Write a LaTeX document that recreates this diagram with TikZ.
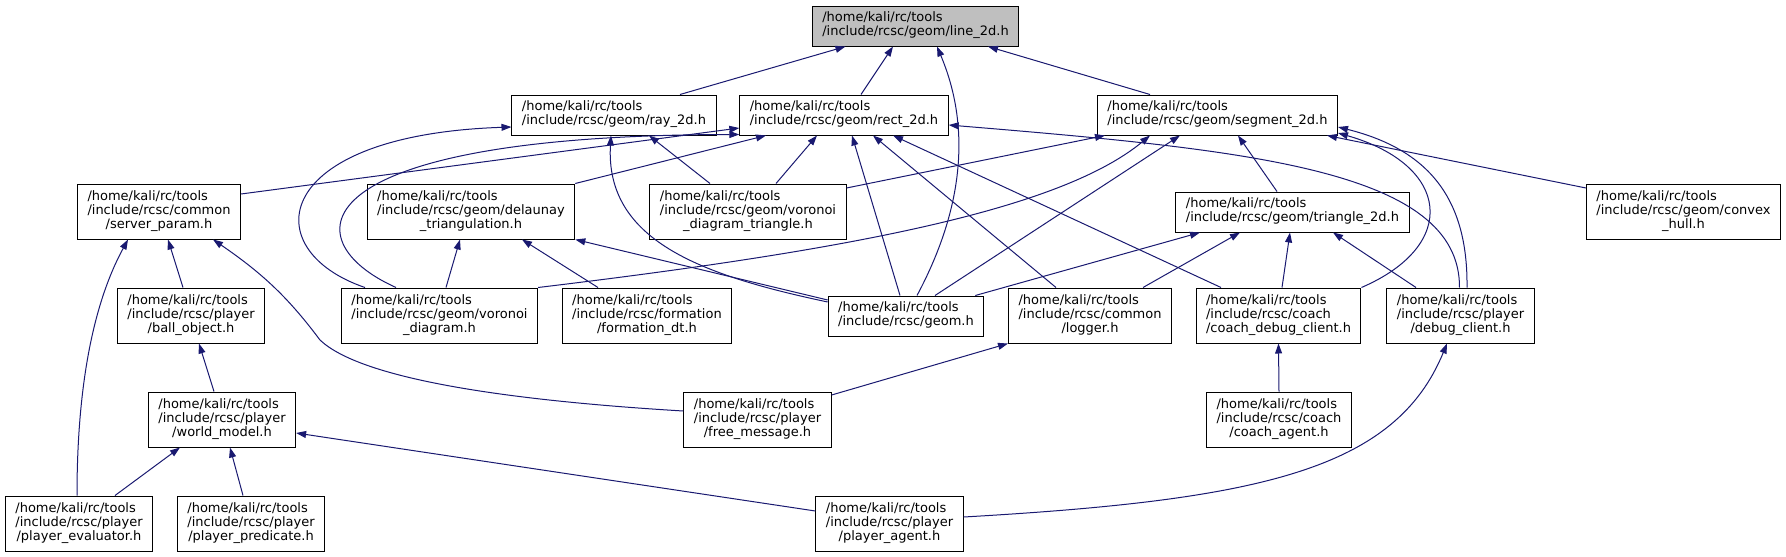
\documentclass[tikz,border=0pt]{standalone}
\usepackage{fontspec}
\setmainfont{DejaVu Sans}
\usepackage{tikz}
\usetikzlibrary{positioning,arrows.meta,calc}
\definecolor{edgeblue}{HTML}{191970}
\definecolor{rootgray}{HTML}{BFBFBF}
\newcommand{\fthree}[3]{\begin{tabular}{@{}l@{}}#1\\#2\\\multicolumn{1}{@{}c@{}}{#3}\end{tabular}}
\newcommand{\ftwo}[2]{\begin{tabular}{@{}l@{}}#1\\#2\end{tabular}}
\tikzset{
  incfile/.style={draw=black, line width=0.75pt, fill=white, inner xsep=7.5pt, inner ysep=0pt,
    minimum height=41.25pt, font=\fontsize{9.75}{10.7}\selectfont},
  incfiletwo/.style={incfile, minimum height=30pt},
  rootfile/.style={incfiletwo, fill=rootgray},
  incl/.style={draw=edgeblue, line width=0.75pt, {Triangle[length=7.5pt,width=5.2pt]}-}
}
\begin{document}
\begin{tikzpicture}[x=0.75pt, y=-0.75pt]
  \useasboundingbox (0,0) rectangle (1786,557);
  \def\home{/home/kali/rc/tools}

  % row 0 and 1
  \node[rootfile]   (l2d)  at (915.5,26)  {\ftwo{\home}{/include/rcsc/geom/line\_2d.h}};
  \node[incfiletwo] (ray)  at (614,115)   {\ftwo{\home}{/include/rcsc/geom/ray\_2d.h}};
  \node[incfiletwo] (rect) at (844,115)   {\ftwo{\home}{/include/rcsc/geom/rect\_2d.h}};
  \node[incfiletwo] (seg)  at (1217.5,115){\ftwo{\home}{/include/rcsc/geom/segment\_2d.h}};

  % row 2
  \node[incfile]    (srv) at (159,211.5)  {\fthree{\home}{/include/rcsc/common}{/server\_param.h}};
  \node[incfile]    (dln) at (471,211.5)  {\fthree{\home}{/include/rcsc/geom/delaunay}{\_triangulation.h}};
  \node[incfile]    (vdt) at (748,211.5)  {\fthree{\home}{/include/rcsc/geom/voronoi}{\_diagram\_triangle.h}};
  \node[incfiletwo] (tri) at (1292.5,212) {\ftwo{\home}{/include/rcsc/geom/triangle\_2d.h}};
  \node[incfile]    (cvx) at (1683.5,211.5){\fthree{\home}{/include/rcsc/geom/convex}{\_hull.h}};

  % row 3
  \node[incfile]    (ball) at (191,315.5)  {\fthree{\home}{/include/rcsc/player}{/ball\_object.h}};
  \node[incfile]    (vor)  at (439.5,315.5){\fthree{\home}{/include/rcsc/geom/voronoi}{\_diagram.h}};
  \node[incfile]    (fdt)  at (647,315.5)  {\fthree{\home}{/include/rcsc/formation}{/formation\_dt.h}};
  \node[incfiletwo] (geo)  at (906,316)    {\ftwo{\home}{/include/rcsc/geom.h}};
  \node[incfile]    (log)  at (1090,315.5) {\fthree{\home}{/include/rcsc/common}{/logger.h}};
  \node[incfile]    (cdc)  at (1278.5,315.5){\fthree{\home}{/include/rcsc/coach}{/coach\_debug\_client.h}};
  \node[incfile]    (dbc)  at (1460.5,315.5){\fthree{\home}{/include/rcsc/player}{/debug\_client.h}};

  % row 4 and 5
  \node[incfile] (wm) at (222,419.5)  {\fthree{\home}{/include/rcsc/player}{/world\_model.h}};
  \node[incfile] (fm) at (757.5,419.5){\fthree{\home}{/include/rcsc/player}{/free\_message.h}};
  \node[incfile] (ca) at (1279,419.5) {\fthree{\home}{/include/rcsc/coach}{/coach\_agent.h}};
  \node[incfile] (pe) at (79,523.5)   {\fthree{\home}{/include/rcsc/player}{/player\_evaluator.h}};
  \node[incfile] (pp) at (251,523.5)  {\fthree{\home}{/include/rcsc/player}{/player\_predicate.h}};
  \node[incfile] (pa) at (889.5,523.5){\fthree{\home}{/include/rcsc/player}{/player\_agent.h}};

  % line_2d.h
  \draw[incl] ($(l2d.south)+(-70,0)$) -- ($(ray.north)+(66,0)$);
  \draw[incl] ($(l2d.south)+(-22.5,0)$) -- ($(rect.north)+(17,0)$);
  \draw[incl] ($(l2d.south)+(21.5,0)$) .. controls (968,120) and (968,200) .. ($(geo.north)+(11,0)$);
  \draw[incl] ($(l2d.south)+(72.5,0)$) -- ($(seg.north)+(-67.5,0)$);

  % ray_2d.h
  \draw[incl] ($(ray.south)+(35,0)$) -- ($(vdt.north)+(-38,0)$);
  \draw[incl] ($(ray.west)+(0,12)$) .. controls (270,135) and (255,250) .. ($(vor.north)+(-74.5,0)$);
  \draw[incl] ($(ray.south)+(-3,0)$) .. controls (605,240) and (700,275) .. ($(geo.west)+(0,-14)$);

  % rect_2d.h
  \draw[incl] ($(rect.west)+(0,13)$) -- ($(srv.east)+(0,-17.5)$);
  \draw[incl] ($(rect.south)+(-78,0)$) -- (dln.north east);
  \draw[incl] ($(rect.south)+(-27,0)$) -- ($(vdt.north)+(28,0)$);
  \draw[incl] ($(rect.south west)+(0,-1)$) .. controls (300,135) and (290,240) .. ($(vor.north)+(-43.5,0)$);
  \draw[incl] ($(rect.south)+(8,0)$) -- ($(geo.north)+(-6,0)$);
  \draw[incl] ($(rect.south)+(29,0)$) -- ($(log.north)+(-34,0)$);
  \draw[incl] ($(rect.south)+(49,0)$) -- ($(cdc.north)+(-57.5,0)$);
  \draw[incl] ($(rect.east)+(0,10)$) .. controls (1250,150) and (1460,170) .. ($(dbc.north)+(-1,0)$);

  % segment_2d.h
  \draw[incl] ($(seg.south west)+(8,0)$) -- ($(vdt.east)+(0,-23.5)$);
  \draw[incl] ($(seg.south)+(-67.5,0)$) .. controls (1060,210) and (850,250) .. (vor.north east);
  \draw[incl] ($(seg.south)+(-37.5,0)$) -- ($(geo.north)+(29,0)$);
  \draw[incl] ($(seg.south)+(20.5,0)$) -- ($(tri.north)+(-15.5,0)$);
  \draw[incl] ($(seg.east)+(0,18)$) .. controls (1450,165) and (1460,245) .. (cdc.north east);
  \draw[incl] ($(seg.east)+(0,12)$) .. controls (1430,150) and (1468,200) .. ($(dbc.north)+(6.5,0)$);
  \draw[incl] ($(seg.south east)+(-11,0)$) -- ($(cvx.west)+(0,-23.5)$);

  % delaunay_triangulation.h
  \draw[incl] ($(dln.south)+(-11,0)$) -- ($(vor.north)+(6.5,0)$);
  \draw[incl] ($(dln.south)+(51,0)$) -- ($(fdt.north)+(-49,0)$);
  \draw[incl] (dln.south east) -- ($(geo.west)+(0,-16)$);

  % triangle_2d.h
  \draw[incl] ($(tri.south)+(-92.5,0)$) -- ($(geo.north east)+(-9,0)$);
  \draw[incl] ($(tri.south)+(-52.5,0)$) -- ($(log.north east)+(-29,0)$);
  \draw[incl] ($(tri.south)+(-2.5,0)$) -- ($(cdc.north)+(3.5,0)$);
  \draw[incl] ($(tri.south)+(40.5,0)$) -- ($(dbc.north)+(-44.5,0)$);

  % server_param.h
  \draw[incl] ($(srv.south)+(-31,0)$) .. controls (95,300) and (77,380) .. ($(pe.north)+(-2,0)$);
  \draw[incl] ($(srv.south)+(9,0)$) -- ($(ball.north)+(-8,0)$);
  \draw[incl] ($(srv.south)+(54,0)$) .. controls (265,275) and (290,300) .. (320,340)
    .. controls (360,378) and (500,400) .. ($(fm.west)+(0,-8.5)$);

  % player side
  \draw[incl] ($(ball.south)+(8,0)$) -- ($(wm.north)+(-8,0)$);
  \draw[incl] ($(wm.south)+(-42,0)$) -- ($(pe.north)+(36,0)$);
  \draw[incl] ($(wm.south)+(8,0)$) -- ($(pp.north)+(-8,0)$);
  \draw[incl] ($(wm.east)+(0,13.5)$) -- ($(pa.west)+(0,-12.5)$);
  \draw[incl] (log.south west) -- ($(fm.east)+(0,-24.5)$);
  \draw[incl] (cdc.south) -- (ca.north);
  \draw[incl] ($(dbc.south)+(-13.5,0)$) .. controls (1395,470) and (1260,500) .. ($(pa.east)+(0,-6.5)$);
\end{tikzpicture}
\end{document}
